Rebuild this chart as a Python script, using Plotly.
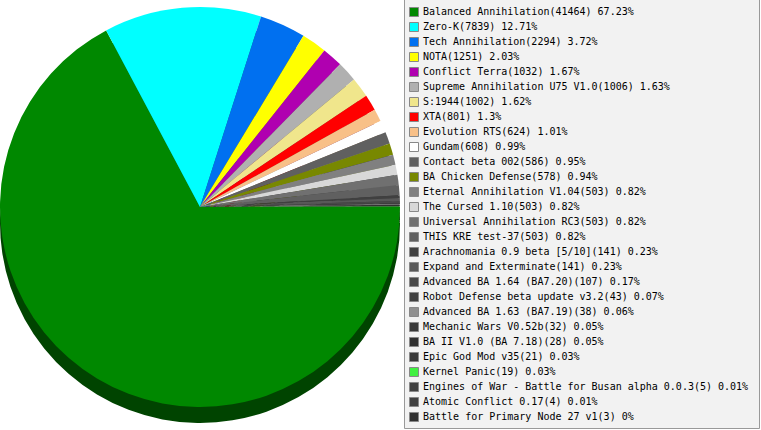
import plotly.graph_objects as go

# mod names, player counts, shares as printed in the legend
mods = ["Balanced Annihilation", "Zero-K", "Tech Annihilation", "NOTA", "Conflict Terra",
        "Supreme Annihilation U75 V1.0", "S:1944", "XTA", "Evolution RTS", "Gundam",
        "Contact beta 002", "BA Chicken Defense", "Eternal Annihilation V1.04", "The Cursed 1.10",
        "Universal Annihilation RC3", "THIS KRE test-37", "Arachnomania 0.9 beta [5/10]",
        "Expand and Exterminate", "Advanced BA 1.64 (BA7.20)", "Robot Defense beta update v3.2",
        "Advanced BA 1.63 (BA7.19)", "Mechanic Wars V0.52b", "BA II V1.0 (BA 7.18)",
        "Epic God Mod v35", "Kernel Panic", "Engines of War - Battle for Busan alpha 0.0.3",
        "Atomic Conflict 0.17", "Battle for Primary Node 27 v1"]
counts = [41464, 7839, 2294, 1251, 1032, 1006, 1002, 801, 624, 608, 586, 578, 503, 503,
          503, 503, 141, 141, 107, 43, 38, 32, 28, 21, 19, 5, 4, 3]
pcts = ["67.23", "12.71", "3.72", "2.03", "1.67", "1.63", "1.62", "1.3", "1.01", "0.99",
        "0.95", "0.94", "0.82", "0.82", "0.82", "0.82", "0.23", "0.23", "0.17", "0.07",
        "0.06", "0.05", "0.05", "0.03", "0.03", "0.01", "0.01", "0"]
colors = ["#008800", "#00ffff", "#0070f0", "#ffff00", "#b000b0", "#b0b0b0", "#f0e68c",
          "#ff0000", "#f8c088", "#ffffff", "#606060", "#788800", "#808080", "#d8d8d8",
          "#707070", "#606060", "#404040", "#585858", "#484848", "#404040", "#909090",
          "#383838", "#303030", "#383838", "#40f040", "#404040", "#404040", "#303030"]

W, H = 761, 430


def darker(c):
    r, g, b = (int(c[i:i + 2], 16) // 2 for i in (1, 3, 5))
    return f"rgb({r},{g},{b})"


labels = [f"{m}({c}) {p}%" for m, c, p in zip(mods, counts, pcts)]

fig = go.Figure()

# depth of the "3d" pie: same pie, darker, shifted down
depth = 16
for shift, cols in [(depth, [darker(c) for c in colors]), (0, colors)]:
    fig.add_trace(go.Pie(
        values=counts, labels=mods, sort=False, direction="clockwise", rotation=90,
        marker=dict(colors=cols, line=dict(width=0)), textinfo="none",
        showlegend=False, hoverinfo="label+value+percent",
        domain=dict(x=[0, 400 / W], y=[(H - 410 - shift) / H, (H - 4 - shift) / H]),
    ))

rows = list(range(len(mods)))
fig.add_trace(go.Scatter(
    x=[414] * len(rows), y=rows, mode="markers", showlegend=False, hoverinfo="skip",
    marker=dict(symbol="square", size=9, color=colors, line=dict(color="#888888", width=1)),
))
fig.add_trace(go.Scatter(
    x=[423] * len(rows), y=rows, mode="text", text=labels, textposition="middle right",
    textfont=dict(family="DejaVu Sans Mono", size=10, color="#000000"),
    showlegend=False, hoverinfo="skip", cliponaxis=False,
))

fig.add_shape(type="rect", xref="x", yref="paper", x0=404.5, x1=759.5, y0=1.5 / H, y1=1.01,
              line=dict(color="#999999", width=1), fillcolor="#f2f2f2", layer="below")

fig.update_layout(
    width=W, height=H, margin=dict(l=0, r=0, t=0, b=0),
    paper_bgcolor="white", plot_bgcolor="rgba(0,0,0,0)",
    xaxis=dict(range=[0, W], visible=False, fixedrange=True),
    yaxis=dict(range=[(H - 12) / 15, -12 / 15], visible=False, fixedrange=True),
)

# page body has a default 8px margin; drop it so the figure fills the window
fig.write_html("out.html", config={"displayModeBar": False},
               post_script="document.body.style.margin='0';")
